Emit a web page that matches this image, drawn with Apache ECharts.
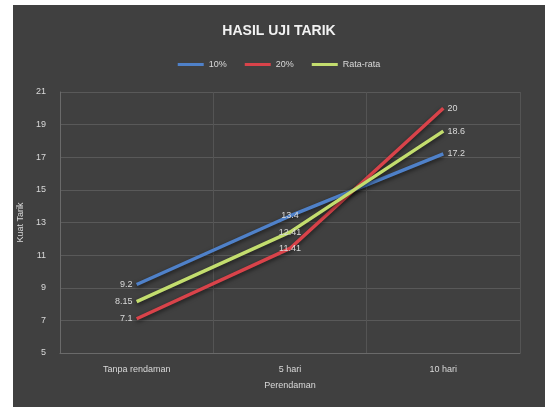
<!DOCTYPE html>
<html>
<head>
<meta charset="utf-8">
<script src="https://cdn.jsdelivr.net/npm/echarts@6/dist/echarts.min.js"></script>
<style>
  html, body { margin: 0; padding: 0; background: #ffffff; }
  #chart { position: absolute; left: 13px; top: 5px; width: 532px; height: 402px; background: #404040; }
</style>
</head>
<body>
<div id="chart"></div>
<script>
// Tensile test results by soaking duration
const categories = ['Tanpa rendaman', '5 hari', '10 hari'];
const seriesNames = ['10%', '20%', 'Rata-rata'];
const valuesA = [9.2, 13.4, 17.2];
const valuesB = [7.1, 11.41, 20];
const valuesAvg = [8.15, 12.41, 18.6];
const colors = ['#4f81c9', '#d9434a', '#c3dd6e'];

const chart = echarts.init(document.getElementById('chart'), null, { renderer: 'canvas' });

// first point labelled to the left, last to the right, middle on the point
function labelPos(i, n) {
  if (i === 0) return 'left';
  if (i === n - 1) return 'right';
  return 'inside';
}

function lineSeries(name, data, color) {
  return {
    name: name,
    type: 'line',
    data: data.map((v, i) => ({ value: v, label: { position: labelPos(i, data.length) } })),
    symbol: 'circle',
    symbolSize: 0.1,
    showSymbol: true,
    lineStyle: { color: color, width: 3.5, shadowColor: 'rgba(0,0,0,0.6)', shadowBlur: 4, shadowOffsetY: 2 },
    itemStyle: { color: color },
    label: {
      show: true,
      distance: 4,
      color: '#d9d9d9',
      fontSize: 9,
      fontFamily: 'Liberation Sans'
    }
  };
}

chart.setOption({
  backgroundColor: '#404040',
  animation: false,
  title: {
    text: 'HASIL UJI TARIK',
    left: 'center',
    top: 14,
    textStyle: { color: '#f2f2f2', fontSize: 14, fontWeight: 'bold', fontFamily: 'Liberation Sans' }
  },
  legend: {
    top: 50,
    left: 'center',
    itemWidth: 26,
    itemHeight: 3,
    itemGap: 18,
    icon: 'rect',
    textStyle: { color: '#d9d9d9', fontSize: 9, fontFamily: 'Liberation Sans' },
    data: seriesNames
  },
  grid: { left: 47, right: 25, top: 87, bottom: 54, containLabel: false, outerBoundsMode: 'none' },
  xAxis: {
    type: 'category',
    data: categories,
    name: 'Perendaman',
    nameLocation: 'middle',
    nameGap: 28,
    nameTextStyle: { color: '#d9d9d9', fontSize: 9, fontFamily: 'Liberation Sans' },
    axisLine: { lineStyle: { color: '#6a6a6a' } },
    axisTick: { show: false },
    axisLabel: { color: '#d9d9d9', fontSize: 9, margin: 12, fontFamily: 'Liberation Sans' },
    splitLine: { show: true, lineStyle: { color: '#545454' } }
  },
  yAxis: {
    type: 'value',
    min: 5,
    max: 21,
    interval: 2,
    name: 'Kuat Tarik',
    nameLocation: 'middle',
    nameGap: 24,
    nameTextStyle: { color: '#d9d9d9', fontSize: 9, fontFamily: 'Liberation Sans' },
    axisLine: { show: true, lineStyle: { color: '#6a6a6a' } },
    axisTick: { show: false },
    axisLabel: { color: '#d9d9d9', fontSize: 9, margin: 14, fontFamily: 'Liberation Sans' },
    splitLine: { lineStyle: { color: '#595959' } }
  },
  series: [
    lineSeries(seriesNames[0], valuesA, colors[0]),
    lineSeries(seriesNames[1], valuesB, colors[1]),
    lineSeries(seriesNames[2], valuesAvg, colors[2])
  ]
});
</script>
</body>
</html>
